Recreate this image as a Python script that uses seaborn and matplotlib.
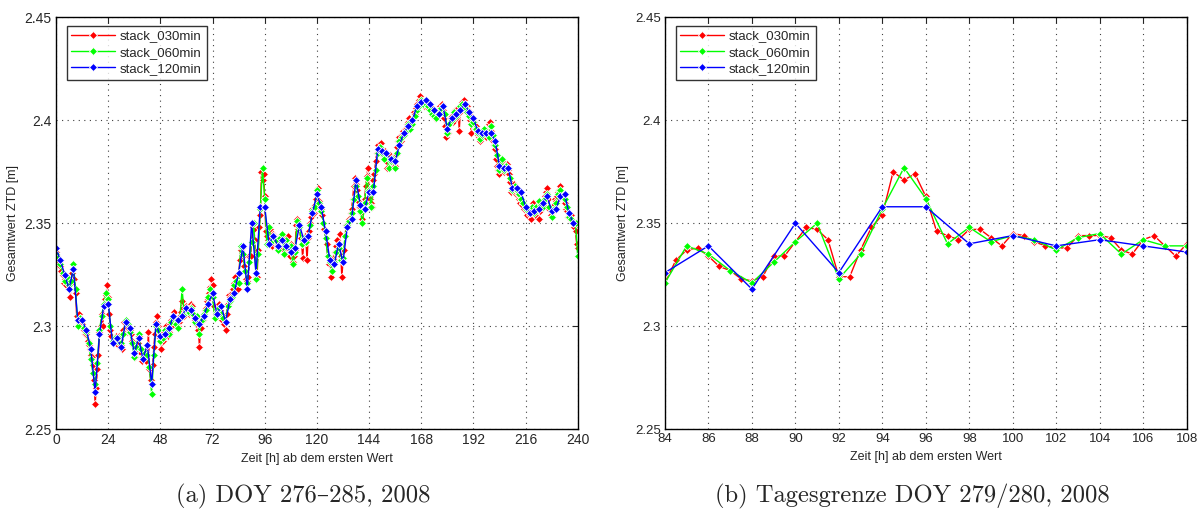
import numpy as np
import pandas as pd
import matplotlib
matplotlib.use('Agg')
import matplotlib.pyplot as plt
import seaborn as sns

# ZTD-Werte (Stunden ab dem ersten Wert)
# stack_030min: alle 30 min, 0 ... 240 h
red_vals = [
    2.336, 2.334, 2.333, 2.331, 2.329, 2.327, 2.325, 2.321, 2.323, 2.320,
    2.324, 2.322, 2.318, 2.314, 2.321, 2.326, 2.328, 2.323, 2.316, 2.305,
    2.303, 2.306, 2.304, 2.302, 2.301, 2.299, 2.298, 2.296, 2.296, 2.293,
    2.291, 2.289, 2.286, 2.285, 2.281, 2.274, 2.262, 2.270, 2.279, 2.286,
    2.297, 2.300, 2.306, 2.300, 2.310, 2.313, 2.315, 2.320, 2.314, 2.306,
    2.298, 2.295, 2.293, 2.292, 2.294, 2.295, 2.293, 2.291, 2.295, 2.292,
    2.291, 2.289, 2.298, 2.302, 2.302, 2.297, 2.299, 2.297, 2.298, 2.296,
    2.293, 2.291, 2.287, 2.285, 2.288, 2.292, 2.295, 2.289, 2.287, 2.283,
    2.285, 2.286, 2.288, 2.283, 2.286, 2.297, 2.279, 2.274, 2.272, 2.281,
    2.290, 2.296, 2.302, 2.305, 2.300, 2.297, 2.294, 2.289, 2.293, 2.297,
    2.296, 2.300, 2.298, 2.295, 2.297, 2.301, 2.303, 2.300, 2.305, 2.307,
    2.303, 2.301, 2.300, 2.302, 2.305, 2.307, 2.312, 2.309, 2.305, 2.307,
    2.310, 2.308, 2.306, 2.308, 2.311, 2.310, 2.306, 2.305, 2.303, 2.301,
    2.304, 2.298, 2.290, 2.299, 2.304, 2.303, 2.306, 2.308, 2.309, 2.312,
    2.313, 2.316, 2.319, 2.323, 2.320, 2.310, 2.304, 2.306, 2.307, 2.309,
    2.311, 2.308, 2.306, 2.303, 2.305, 2.301, 2.298, 2.306, 2.311, 2.315,
    2.314, 2.313, 2.316, 2.318, 2.321, 2.324, 2.322, 2.318, 2.321, 2.332,
    2.337, 2.338, 2.334, 2.329, 2.327, 2.323, 2.322, 2.324, 2.334, 2.334,
    2.341, 2.348, 2.347, 2.342, 2.324, 2.324, 2.337, 2.348, 2.354, 2.375,
    2.371, 2.374, 2.363, 2.346, 2.344, 2.342, 2.347, 2.347, 2.343, 2.339,
    2.345, 2.344, 2.341, 2.339, 2.338, 2.338, 2.344, 2.344, 2.344, 2.343,
    2.337, 2.335, 2.342, 2.344, 2.339, 2.334, 2.340, 2.336, 2.331, 2.334,
    2.337, 2.349, 2.352, 2.347, 2.348, 2.343, 2.340, 2.333, 2.342, 2.344,
    2.341, 2.332, 2.343, 2.346, 2.350, 2.353, 2.357, 2.355, 2.359, 2.362,
    2.364, 2.367, 2.361, 2.358, 2.357, 2.354, 2.350, 2.347, 2.343, 2.340,
    2.334, 2.330, 2.333, 2.324, 2.329, 2.333, 2.332, 2.336, 2.339, 2.342,
    2.340, 2.345, 2.334, 2.324, 2.331, 2.337, 2.344, 2.349, 2.348, 2.350,
    2.352, 2.355, 2.357, 2.362, 2.368, 2.372, 2.369, 2.366, 2.361, 2.358,
    2.358, 2.355, 2.352, 2.357, 2.362, 2.368, 2.373, 2.377, 2.366, 2.362,
    2.360, 2.358, 2.371, 2.374, 2.380, 2.384, 2.388, 2.386, 2.384, 2.389,
    2.386, 2.383, 2.381, 2.385, 2.380, 2.377, 2.381, 2.383, 2.380, 2.378,
    2.382, 2.379, 2.378, 2.383, 2.387, 2.390, 2.392, 2.390, 2.393, 2.395,
    2.393, 2.396, 2.396, 2.398, 2.399, 2.401, 2.397, 2.399, 2.400, 2.404,
    2.403, 2.406, 2.408, 2.407, 2.410, 2.412, 2.409, 2.408, 2.409, 2.407,
    2.410, 2.408, 2.406, 2.408, 2.407, 2.405, 2.404, 2.402, 2.403, 2.401,
    2.402, 2.404, 2.405, 2.407, 2.406, 2.408, 2.405, 2.401, 2.397, 2.392,
    2.396, 2.394, 2.398, 2.401, 2.402, 2.399, 2.403, 2.405, 2.401, 2.404,
    2.406, 2.395, 2.404, 2.407, 2.409, 2.410, 2.408, 2.406, 2.407, 2.405,
    2.403, 2.400, 2.394, 2.398, 2.401, 2.399, 2.397, 2.395, 2.393, 2.392,
    2.390, 2.392, 2.395, 2.393, 2.396, 2.394, 2.392, 2.395, 2.398, 2.399,
    2.395, 2.392, 2.390, 2.388, 2.386, 2.381, 2.378, 2.376, 2.374, 2.378,
    2.380, 2.377, 2.375, 2.378, 2.377, 2.379, 2.376, 2.374, 2.370, 2.365,
    2.366, 2.369, 2.367, 2.364, 2.366, 2.364, 2.362, 2.360, 2.362, 2.359,
    2.360, 2.357, 2.356, 2.354, 2.357, 2.356, 2.354, 2.352, 2.357, 2.360,
    2.356, 2.354, 2.358, 2.357, 2.352, 2.356, 2.360, 2.358, 2.359, 2.361,
    2.363, 2.365, 2.367, 2.362, 2.357, 2.354, 2.353, 2.356, 2.359, 2.362,
    2.361, 2.363, 2.365, 2.366, 2.368, 2.365, 2.364, 2.362, 2.360, 2.357,
    2.356, 2.353, 2.355, 2.352, 2.354, 2.351, 2.350, 2.348, 2.346, 2.340,
    2.338,
]

# stack_060min: stuendlich, 0 ... 240 h
green_vals = [
    2.335, 2.333, 2.330, 2.326, 2.322, 2.324, 2.320, 2.322, 2.330, 2.318,
    2.300, 2.304, 2.303, 2.299, 2.297, 2.292, 2.284, 2.277, 2.272, 2.282,
    2.298, 2.305, 2.311, 2.316, 2.313, 2.300, 2.293, 2.294, 2.293, 2.294,
    2.292, 2.296, 2.303, 2.301, 2.297, 2.292, 2.285, 2.290, 2.296, 2.289,
    2.285, 2.287, 2.286, 2.280, 2.267, 2.286, 2.300, 2.298, 2.293, 2.294,
    2.298, 2.297, 2.296, 2.302, 2.304, 2.301, 2.299, 2.304, 2.318, 2.306,
    2.308, 2.307, 2.309, 2.306, 2.302, 2.305, 2.296, 2.303, 2.306, 2.308,
    2.314, 2.318, 2.314, 2.304, 2.307, 2.309, 2.306, 2.304, 2.302, 2.310,
    2.312, 2.314, 2.320, 2.322, 2.321, 2.339, 2.335, 2.327, 2.321, 2.331,
    2.341, 2.350, 2.323, 2.335, 2.357, 2.377, 2.362, 2.340, 2.348, 2.341,
    2.344, 2.342, 2.337, 2.343, 2.345, 2.335, 2.342, 2.339, 2.339, 2.330,
    2.336, 2.351, 2.348, 2.340, 2.343, 2.341, 2.344, 2.349, 2.356, 2.358,
    2.366, 2.360, 2.356, 2.350, 2.343, 2.334, 2.331, 2.327, 2.331, 2.336,
    2.338, 2.332, 2.333, 2.344, 2.349, 2.351, 2.355, 2.362, 2.368, 2.363,
    2.356, 2.350, 2.360, 2.372, 2.366, 2.358, 2.368, 2.376, 2.384, 2.387,
    2.384, 2.381, 2.384, 2.377, 2.380, 2.381, 2.377, 2.384, 2.390, 2.392,
    2.393, 2.395, 2.398, 2.396, 2.398, 2.402, 2.405, 2.407, 2.410, 2.408,
    2.408, 2.407, 2.405, 2.403, 2.402, 2.401, 2.404, 2.406, 2.407, 2.403,
    2.394, 2.398, 2.400, 2.404, 2.402, 2.404, 2.407, 2.408, 2.406, 2.404,
    2.402, 2.398, 2.399, 2.396, 2.394, 2.391, 2.393, 2.396, 2.394, 2.392,
    2.397, 2.393, 2.388, 2.383, 2.376, 2.381, 2.376, 2.378, 2.377, 2.372,
    2.366, 2.368, 2.366, 2.364, 2.362, 2.360, 2.357, 2.356, 2.355, 2.358,
    2.355, 2.358, 2.361, 2.359, 2.358, 2.362, 2.364, 2.358, 2.353, 2.357,
    2.360, 2.364, 2.366, 2.363, 2.362, 2.358, 2.353, 2.352, 2.350, 2.350,
    2.334,
]

# stack_120min: alle 2 h, 0 ... 238 h
blue_vals = [
    2.338, 2.332, 2.325, 2.318, 2.328, 2.303, 2.303, 2.298, 2.289, 2.268,
    2.296, 2.310, 2.311, 2.292, 2.294, 2.290, 2.302, 2.299, 2.287, 2.294,
    2.284, 2.291, 2.272, 2.301, 2.295, 2.296, 2.299, 2.305, 2.303, 2.305,
    2.309, 2.308, 2.304, 2.301, 2.305, 2.311, 2.316, 2.306, 2.310, 2.302,
    2.313, 2.316, 2.326, 2.339, 2.318, 2.350, 2.326, 2.358, 2.358, 2.340,
    2.344, 2.339, 2.342, 2.339, 2.336, 2.338, 2.349, 2.342, 2.344, 2.355,
    2.364, 2.358, 2.346, 2.332, 2.330, 2.340, 2.331, 2.348, 2.352, 2.371,
    2.359, 2.357, 2.365, 2.365, 2.386, 2.385, 2.384, 2.381, 2.380, 2.388,
    2.394, 2.397, 2.400, 2.407, 2.409, 2.410, 2.408, 2.405, 2.403, 2.407,
    2.396, 2.401, 2.403, 2.405, 2.408, 2.404, 2.401, 2.395, 2.394, 2.394,
    2.394, 2.390, 2.378, 2.377, 2.377, 2.367, 2.367, 2.365, 2.358, 2.355,
    2.356, 2.357, 2.360, 2.363, 2.356, 2.357, 2.363, 2.364, 2.355, 2.350,
]

series_names = ['stack_030min', 'stack_060min', 'stack_120min']
series_colors = ['#ff0000', '#00ff00', '#0000ff']
captions = ['(a) DOY 276\u2013285, 2008', '(b) Tagesgrenze DOY 279/280, 2008']
y_ticks = [2.25, 2.3, 2.35, 2.4, 2.45]
y_ticklabels = ['2.25', '2.3', '2.35', '2.4', '2.45']

df = pd.concat([
    pd.DataFrame({'t': np.arange(len(red_vals)) * 0.5, 'ztd': red_vals, 'serie': series_names[0]}),
    pd.DataFrame({'t': np.arange(len(green_vals)) * 1.0, 'ztd': green_vals, 'serie': series_names[1]}),
    pd.DataFrame({'t': np.arange(len(blue_vals)) * 2.0, 'ztd': blue_vals, 'serie': series_names[2]}),
], ignore_index=True)

sns.set_style('white')
plt.rcParams['font.family'] = ['Liberation Sans', 'DejaVu Sans']

fig = plt.figure(figsize=(12.02, 5.12), dpi=100)
ax1 = fig.add_axes([0.0466, 0.162, 0.434, 0.804])
ax2 = fig.add_axes([0.5532, 0.162, 0.434, 0.804])

panels = [
    (ax1, (0, 240), np.arange(0, 241, 24), 10),
    (ax2, (84, 108), np.arange(84, 109, 2), 9.5),
]

for ax, xlim, xticks, fs in panels:
    sns.lineplot(data=df, x='t', y='ztd', hue='serie', style='serie',
                 hue_order=series_names, palette=series_colors,
                 markers={n: 'D' for n in series_names}, dashes=False,
                 markersize=4.0, markeredgewidth=0.6, linewidth=1.0,
                 estimator=None, sort=False, ax=ax)
    ax.set_xlim(*xlim)
    ax.set_ylim(2.25, 2.45)
    ax.set_xticks(xticks)
    ax.set_xticklabels([str(v) for v in xticks], fontsize=fs)
    ax.set_yticks(y_ticks)
    ax.set_yticklabels(y_ticklabels, fontsize=fs)
    ax.grid(True, linestyle=(0, (1, 4)), color='#404040', linewidth=0.8)
    ax.tick_params(direction='in', top=True, right=True, length=4, width=0.8, pad=3)
    for sp in ax.spines.values():
        sp.set_color('black')
        sp.set_linewidth(1.0)
    ax.set_xlabel('Zeit [h] ab dem ersten Wert', fontsize=9)
    ax.set_ylabel('Gesamtwert ZTD [m]', fontsize=9)
    handles, labels = ax.get_legend_handles_labels()
    leg = ax.legend(handles, labels, loc='upper left', fontsize=9.5,
                    frameon=True, fancybox=False, edgecolor='black',
                    borderpad=0.35, labelspacing=0.3, handlelength=3.3,
                    handletextpad=0.4, borderaxespad=0,
                    bbox_to_anchor=(0.0205, 0.980))
    leg.get_frame().set_linewidth(1.0)

ax1.text(0.474, -0.163, captions[0], transform=ax1.transAxes, ha='center', va='center',
         fontsize=17.7, family=['cmr10', 'DejaVu Serif'])
ax2.text(0.474, -0.163, captions[1], transform=ax2.transAxes, ha='center', va='center',
         fontsize=17.7, family=['cmr10', 'DejaVu Serif'])

fig.savefig('out.png', dpi=100)
